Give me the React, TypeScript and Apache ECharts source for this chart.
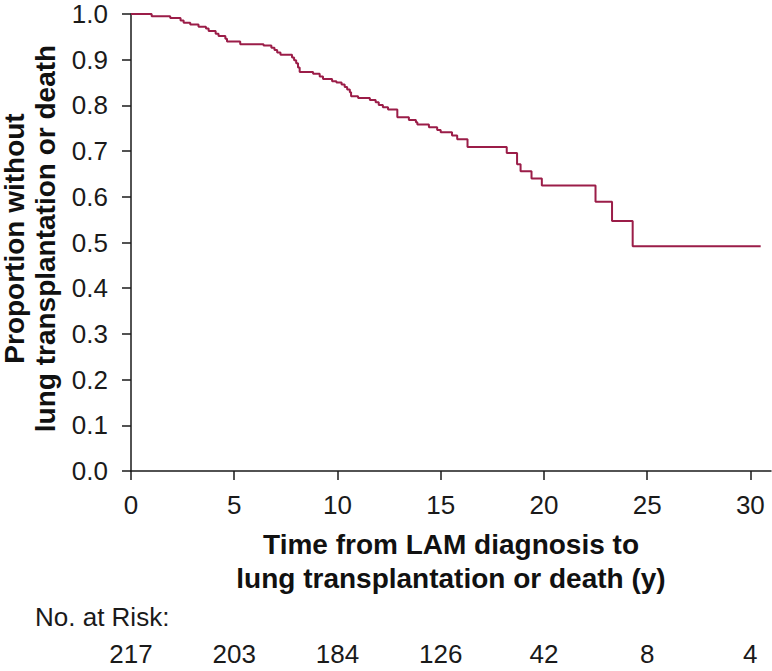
import React, { useEffect, useRef } from "react";
import * as echarts from "echarts";

// Kaplan–Meier step points: time (years) and proportion without event from that time onward
const times = [
  0, 1.0, 1.9, 2.4, 2.55, 2.87, 3.27, 3.63, 3.76, 4.1, 4.24, 4.57, 4.65, 5.29, 6.42,
  6.8, 6.95, 7.08, 7.24, 7.8, 7.9, 8.0, 8.09, 8.17, 8.82, 9.14, 9.3, 9.74, 9.95,
  10.2, 10.35, 10.47, 10.6, 10.66, 11.0, 11.57, 11.85, 12.0, 12.2, 12.45, 12.9,
  13.46, 13.8, 13.87, 14.43, 14.83, 15.0, 15.55, 15.8, 16.3, 18.2, 18.7, 18.87,
  19.4, 19.9, 22.5, 23.3, 24.3, 30.5,
];
const survival = [
  1.0, 0.995, 0.991, 0.986, 0.981, 0.977, 0.972, 0.968, 0.963, 0.957, 0.952, 0.946,
  0.94, 0.934, 0.931, 0.926, 0.921, 0.916, 0.911, 0.905, 0.899, 0.892, 0.883, 0.873,
  0.869, 0.863, 0.858, 0.853, 0.85, 0.846, 0.84, 0.835, 0.829, 0.82, 0.816, 0.812,
  0.807, 0.801, 0.796, 0.791, 0.774, 0.768, 0.763, 0.758, 0.752, 0.746, 0.741,
  0.734, 0.726, 0.709, 0.696, 0.671, 0.656, 0.64, 0.625, 0.589, 0.547, 0.492, 0.492,
];

const xTicks = [0, 5, 10, 15, 20, 25, 30];
const atRiskTimes = [0, 5, 10, 15, 20, 25, 30];
const atRiskCounts = [217, 203, 184, 126, 42, 8, 4];

const yTitle = "Proportion without\nlung transplantation or death";
const xTitle = "Time from LAM diagnosis to\nlung transplantation or death (y)";
const atRiskTitle = "No. at Risk:";

const FONT = "'Liberation Sans', Arial, Helvetica, sans-serif";
const LINE_COLOR = "#9b1d48";
const AXIS_COLOR = "#1a1a1a";
const TEXT_COLOR = "#1a1a1a";

export default function App() {
  const ref = useRef<HTMLDivElement>(null);

  useEffect(() => {
    if (!ref.current) return;
    const chart = echarts.init(ref.current, null, { renderer: "svg" });
    const data = times.map((t, i) => [t, survival[i]]);
    const riskMap = new Map<number, number>();
    atRiskTimes.forEach((t, i) => riskMap.set(t, atRiskCounts[i]));

    chart.setOption({
      animation: false,
      backgroundColor: "#ffffff",
      grid: {
        left: 131,
        right: 1,
        top: 14,
        bottom: 200,
        containLabel: false,
        outerBoundsMode: "none",
      },
      xAxis: [
        {
          type: "value",
          min: 0,
          max: 31,
          interval: 5,
          splitLine: { show: false },
          axisLine: { show: true, onZero: false, lineStyle: { color: AXIS_COLOR, width: 1.5 } },
          axisTick: { show: true, length: 9, customValues: xTicks, lineStyle: { color: AXIS_COLOR, width: 1.5 } },
          axisLabel: {
            customValues: xTicks,
            margin: 21,
            fontSize: 26,
            color: TEXT_COLOR,
            fontFamily: FONT,
          },
          name: xTitle,
          nameLocation: "middle",
          nameGap: 56,
          nameMoveOverlap: false,
          nameTextStyle: {
            fontSize: 28,
            fontWeight: "bold",
            color: "#111",
            fontFamily: FONT,
            lineHeight: 34,
          },
        },
        {
          type: "value",
          min: 0,
          max: 31,
          position: "bottom",
          offset: 166,
          axisLine: { show: false },
          axisTick: { show: false },
          splitLine: { show: false },
          axisLabel: {
            customValues: atRiskTimes,
            margin: 4,
            fontSize: 26,
            color: TEXT_COLOR,
            fontFamily: FONT,
            formatter: (v: number) => String(riskMap.get(v) ?? ""),
          },
        },
      ],
      yAxis: {
        type: "value",
        min: 0,
        max: 1,
        interval: 0.1,
        splitLine: { show: false },
        axisLine: { show: true, lineStyle: { color: AXIS_COLOR, width: 1.5 } },
        axisTick: { show: true, length: 9, lineStyle: { color: AXIS_COLOR, width: 1.5 } },
        axisLabel: {
          margin: 23,
          fontSize: 26,
          color: TEXT_COLOR,
          fontFamily: FONT,
          formatter: (v: number) => v.toFixed(1),
        },
        name: yTitle,
        nameLocation: "middle",
        nameGap: 70,
        nameRotate: 90,
        nameMoveOverlap: false,
        nameTextStyle: {
          fontSize: 28,
          fontWeight: "bold",
          color: "#111",
          fontFamily: FONT,
          lineHeight: 31,
          padding: [0, 0, 0, 8],
        },
      },
      graphic: [
        {
          type: "text",
          left: 35,
          top: 604,
          style: {
            text: atRiskTitle,
            fontSize: 26,
            fill: TEXT_COLOR,
            fontFamily: FONT,
          },
        },
      ],
      series: [
        {
          type: "line",
          xAxisIndex: 0,
          step: "end",
          data,
          showSymbol: false,
          symbol: "none",
          lineStyle: { color: LINE_COLOR, width: 2 },
          z: 3,
        },
      ],
    });

    return () => chart.dispose();
  }, []);

  return (
    <div
      ref={ref}
      style={{ position: "absolute", left: 0, top: 0, width: 772, height: 671 }}
    />
  );
}
